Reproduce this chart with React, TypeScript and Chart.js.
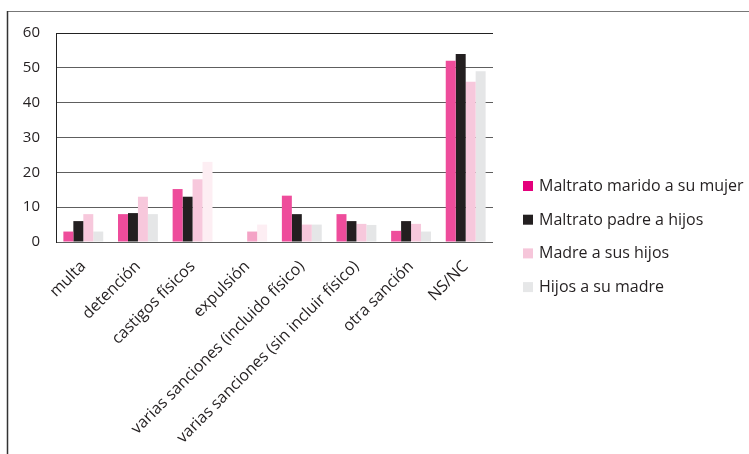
import React, { useEffect, useRef } from "react";
import { Chart, registerables } from "chart.js";

Chart.register(...registerables);

const categories = [
  "multa",
  "detención",
  "castigos físicos",
  "expulsión",
  "varias sanciones (incluido físico)",
  "varias sanciones (sin incluir físico)",
  "otra sanción",
  "NS/NC",
];

const seriesNames = [
  "Maltrato marido a su mujer",
  "Maltrato padre a hijos",
  "Madre a sus hijos",
  "Hijos a su madre",
];

const maridoMujer = [3, 8, 15.2, 0, 13.3, 8, 3.2, 52];
const padreHijos = [6, 8.3, 13, 0, 8, 6, 6, 54];
const madreHijos = [8, 13, 18, 3, 5, 5.2, 5.2, 46];
const hijosMadre = [3, 8, 23, 5, 5, 4.9, 3, 49];

const yMin = 0;
const yMax = 60;
const yStep = 10;

const barColors = ["#ee4c9b", "#231f20", "#f7c8dc", "#e5e6e7"];
const legendColors = ["#e4007c", "#231f20", "#f6c6da", "#e6e7e8"];
// per-bar tints seen in the reference
const madreHijosColors = ["#f7c8dc", "#f7c8dc", "#f7c8dc", "#f4a3c6", "#f7c8dc", "#f7c8dc", "#f7c8dc", "#f7c8dc"];
const hijosMadreColors = ["#e5e6e7", "#e5e6e7", "#fdeef3", "#fdeef3", "#e5e6e7", "#e5e6e7", "#e5e6e7", "#e5e6e7"];

const FONT = "'Open Sans', 'DejaVu Sans', sans-serif";

export default function App() {
  const ref = useRef<HTMLCanvasElement | null>(null);

  useEffect(() => {
    if (!ref.current) return;

    const framePlugin = {
      id: "frame",
      beforeDraw(chart: any) {
        const ctx = chart.ctx;
        ctx.save();
        ctx.fillStyle = "#ffffff";
        ctx.fillRect(0, 0, chart.width, chart.height);
        ctx.strokeStyle = "#777777";
        ctx.lineWidth = 1;
        ctx.beginPath();
        ctx.moveTo(7, 11.5);
        ctx.lineTo(chart.width, 11.5);
        ctx.stroke();
        ctx.strokeStyle = "#333333";
        ctx.lineWidth = 1.5;
        ctx.beginPath();
        ctx.moveTo(7.5, 11);
        ctx.lineTo(7.5, chart.height);
        ctx.stroke();
        ctx.restore();
      },
    };

    const legendPlugin = {
      id: "customLegend",
      afterDraw(chart: any) {
        const ctx = chart.ctx;
        ctx.save();
        ctx.font = `16px ${FONT}`;
        ctx.textBaseline = "middle";
        ctx.textAlign = "left";
        chart.data.datasets.forEach((ds: any, i: number) => {
          const y = 186 + i * 33.7;
          ctx.fillStyle = legendColors[i];
          ctx.fillRect(523, y - 5, 10, 10);
          ctx.fillStyle = "#231f20";
          ctx.fillText(ds.label, 539, y + 0.5);
        });
        ctx.restore();
      },
    };

    const chart = new Chart(ref.current, {
      type: "bar",
      data: {
        labels: categories,
        datasets: [
          { label: seriesNames[0], data: maridoMujer, backgroundColor: barColors[0] },
          { label: seriesNames[1], data: padreHijos, backgroundColor: barColors[1] },
          { label: seriesNames[2], data: madreHijos, backgroundColor: madreHijosColors },
          { label: seriesNames[3], data: hijosMadre, backgroundColor: hijosMadreColors },
        ],
      },
      options: {
        responsive: false,
        animation: false,
        layout: { padding: { left: 0, right: 256, top: 33, bottom: 0 } },
        datasets: {
          bar: { categoryPercentage: 0.73, barPercentage: 1.0, borderWidth: 0 },
        },
        plugins: {
          legend: { display: false },
          tooltip: { enabled: false },
        },
        scales: {
          x: {
            grid: { display: false, drawTicks: false },
            border: { display: false },
            ticks: {
              autoSkip: false,
              minRotation: 45,
              maxRotation: 45,
              padding: 15,
              color: "#231f20",
              font: { family: FONT, size: 16 },
            },
            afterFit(scale: any) {
              scale.height = 212;
            },
          },
          y: {
            min: yMin,
            max: yMax,
            ticks: {
              stepSize: yStep,
              padding: 16,
              color: "#231f20",
              font: { family: FONT, size: 15 },
            },
            grid: {
              color: (c: any) => (c.tick && c.tick.value === yMax ? "#222222" : "#5e5e5e"),
              lineWidth: 1,
              drawTicks: false,
            },
            border: { display: true, color: "#222222", width: 1 },
            afterFit(scale: any) {
              scale.width = 56;
            },
          },
        },
      },
      plugins: [framePlugin, legendPlugin],
    });

    return () => chart.destroy();
  }, []);

  return (
    <div style={{ position: "absolute", left: 0, top: 0, width: 749, height: 454 }}>
      <canvas ref={ref} width={749} height={454} style={{ width: 749, height: 454, display: "block" }} />
    </div>
  );
}
